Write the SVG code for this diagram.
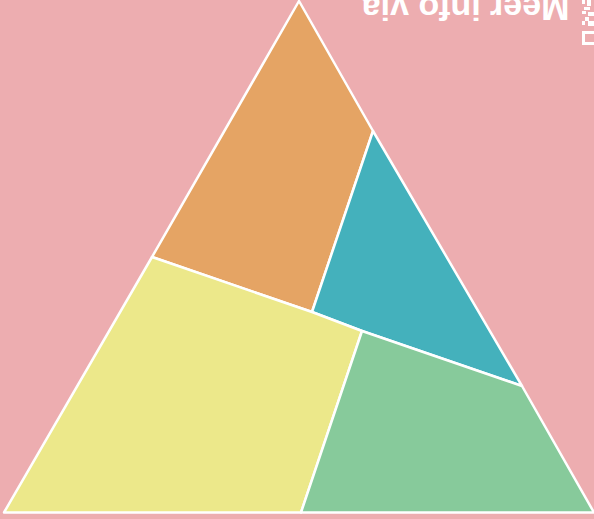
<svg xmlns="http://www.w3.org/2000/svg" width="594" height="519" viewBox="0 0 594 519">
<style>
.p{stroke:#ffffff;stroke-width:2.5;stroke-linejoin:round}
.t{font-family:"Liberation Sans",Arial,sans-serif;font-weight:bold;font-size:34px;fill:#ffffff}
</style>
<rect x="0" y="0" width="594" height="519" fill="#EDADB0"/>
<g id="qr" fill="#ffffff">
<rect x="582" y="31" width="12" height="14"/>
<rect x="585" y="34" width="9" height="8" fill="#EDADB0"/>
<rect x="582" y="0" width="3" height="4"/>
<rect x="587" y="0" width="4" height="6"/>
<rect x="584" y="7" width="6" height="3"/>
<rect x="582" y="11" width="4" height="3"/>
<rect x="588" y="12" width="6" height="4"/>
<rect x="585" y="17" width="4" height="4"/>
<rect x="582" y="21" width="3" height="4"/>
<rect x="588" y="21" width="6" height="5"/>
</g>
<g id="label">
<text class="t" transform="translate(569.5,-3.5) rotate(180)" x="0" y="0">Meer info via</text>
</g>
<g id="orange"><polygon class="p" fill="#E5A464" points="299,1 373,131 312,312 152,257"/></g>
<g id="teal"><polygon class="p" fill="#44B1BC" points="373,131 522,386 362,331 312,312"/></g>
<g id="yellow"><polygon class="p" fill="#ECE88A" points="152,257 312,312 362,331 301,512.5 4,512.5"/></g>
<g id="green"><polygon class="p" fill="#87CA9B" points="362,331 522,386 594,512.5 301,512.5"/></g>
<g id="connectors"></g>
</svg>
